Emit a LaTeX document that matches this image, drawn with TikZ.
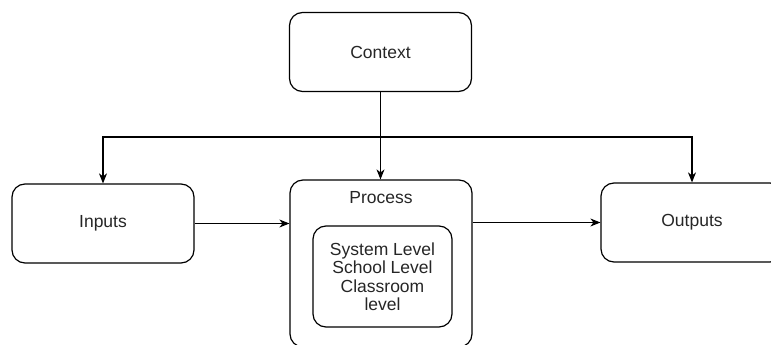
\documentclass[tikz,border=0pt]{standalone}
\usepackage{fontspec}
\setmainfont{Liberation Sans}
\usetikzlibrary{positioning}
\usetikzlibrary{calc}
\usetikzlibrary{arrows.meta}
\tikzset{every picture/.style={line width=1.2pt}}

\begin{document}
\begin{tikzpicture}[x=1pt,y=-1pt,
every node/.style={font=\fontsize{17.5}{18.5}\selectfont, text=black!85},
box/.style={draw, rounded corners=13pt, minimum width=182pt, minimum height=79pt},
inbox/.style={draw, rounded corners=13pt, minimum width=139pt, minimum height=101pt, align=center},
arr/.style={-{Stealth[length=10pt,width=8pt,inset=3pt]}}]

\useasboundingbox (0,0) rectangle (771,345);
\clip (0,0) rectangle (771,345);

% boxes
\node (ctx) at (380.5,52) [box] {Context};
\node (inputs) at (103,223.5) [box] {Inputs};
\node (outputs) at (692,222.5) [box] {Outputs};
\node (proc) at (381,263.5) [box, minimum height=167pt] {};
\node (proclbl) at (381,198) {Process};
\node (levels) at (382.5,276.5) [inbox] {System Level\\School Level\\Classroom\\level};

% connectors
\coordinate (split) at (ctx.south |- 0,137);
\draw [arr] (ctx.south) -- (ctx.south |- proc.north);
\draw [arr] (split) -| (inputs.north);
\draw [arr] (split) -| (outputs.north);
\draw [arr] (inputs.east) -- (inputs.east -| proc.west);
\draw [arr] (proc.east |- outputs.west) -- (outputs.west);

\end{tikzpicture}
\end{document}
